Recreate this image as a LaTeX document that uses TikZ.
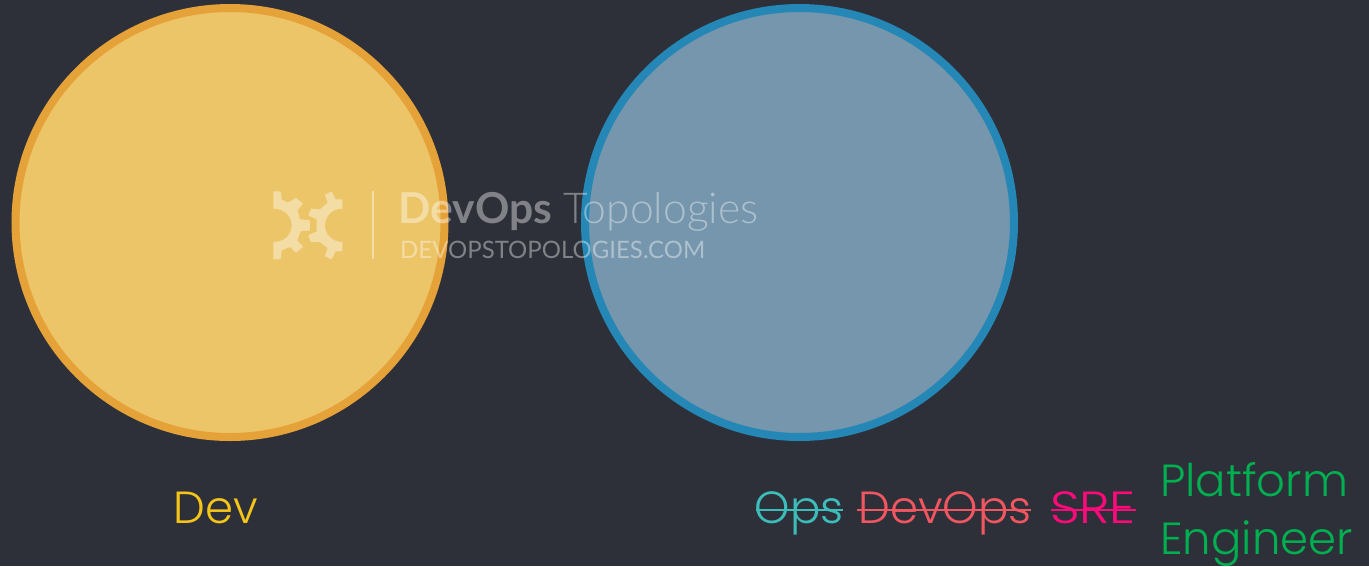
\documentclass[tikz,border=0pt]{standalone}
\usepackage{fontspec}
\newfontfamily\labelfont[UprightFont=* Light]{Poppins}
\newfontfamily\markfont[UprightFont=* Light,BoldFont=* Bold]{Lato}
\newfontfamily\urlfont{Lato}
\definecolor{bg}{HTML}{2D3039}
\definecolor{devfill}{HTML}{EDC569}
\definecolor{devring}{HTML}{E5A239}
\definecolor{opsfill}{HTML}{7596AC}
\definecolor{opsring}{HTML}{2587B5}
\definecolor{devtxt}{HTML}{F5C518}
\definecolor{opstxt}{HTML}{3DBDB9}
\definecolor{dotxt}{HTML}{F25660}
\definecolor{sretxt}{HTML}{FF0A7A}
\definecolor{pftxt}{HTML}{00B050}
\tikzset{
  team/.style={circle,minimum size=429pt,line width=8pt,inner sep=0pt},
  lbl/.style={inner sep=0pt,font=\labelfont\fontsize{45}{45}\selectfont,anchor=base},
  wmark/.style={inner sep=0pt,text=white,text opacity=0.4,anchor=base west},
  gearpart/.style={fill=white,fill opacity=0.4,draw=none},
  strike/.style={line width=1.8pt}
}
\begin{document}
\begin{tikzpicture}[x=1pt,y=-1pt]
\useasboundingbox (0,0) rectangle (1369,566);
\fill[bg] (0,0) rectangle (1369,566);
\node[team,fill=devfill,draw=devring] (dev) at (230,222.5) {};
\node[team,fill=opsfill,draw=opsring] (ops) at (799.5,222.5) {};
% watermark logo
\begin{scope}[shift={(265,182)},x=0.3333pt,y=-0.3333pt]
\fill[gearpart] (25,28) -- (47,28) -- (50,52) -- (68,62) -- (93,48) -- (114,65) -- (97,85) -- (105,112) -- (135,115) -- (135,145) -- (107,148) -- (97,175) -- (114,195) -- (93,212) -- (75,195) -- (50,205) -- (47,232) -- (25,232) -- (25,180) .. controls (58,180) and (80,158) .. (80,130) .. controls (80,102) and (58,80) .. (25,80) -- cycle;
\fill[gearpart] (180,38) -- (200,28) -- (212,52) -- (232,52) -- (232,80) .. controls (202,80) and (180,102) .. (180,130) .. controls (180,158) and (202,180) .. (232,180) -- (232,208) -- (212,208) -- (200,232) -- (180,222) -- (188,198) -- (165,180) -- (138,180) -- (130,160) -- (155,148) -- (155,112) -- (130,100) -- (138,80) -- (165,82) -- (188,62) -- cycle;
\fill[gearpart] (322,28) rectangle (327,232);
\end{scope}
\node[wmark,font=\markfont\fontsize{42.6}{42.6}\selectfont] (brand) at (398,223) {\textbf{DevOps} Topologies};
\node[wmark,font=\urlfont\fontsize{24}{24}\selectfont] (url) at (400,258) {DEVOPSTOPOLOGIES.COM};
% labels
\node[lbl,text=devtxt] (tdev) at (216,523) {Dev};
\node[lbl,text=opstxt] (tops) at (799,523) {Ops};
\node[lbl,text=dotxt] (tdo) at (945,523) {DevOps};
\node[lbl,text=sretxt,xscale=1.15] (tsre) at (1093,523) {SRE};
\draw[strike,opstxt] (756,510) -- (843,510);
\draw[strike,dotxt] (857,510) -- (1031,510);
\draw[strike,sretxt] (1051,510) -- (1136,510);
\node[lbl,text=pftxt,anchor=base west] (tpf) at (1160,496) {Platform};
\node[lbl,text=pftxt,anchor=base west] (ten) at (1160,554) {Engineer};
\end{tikzpicture}
\end{document}
